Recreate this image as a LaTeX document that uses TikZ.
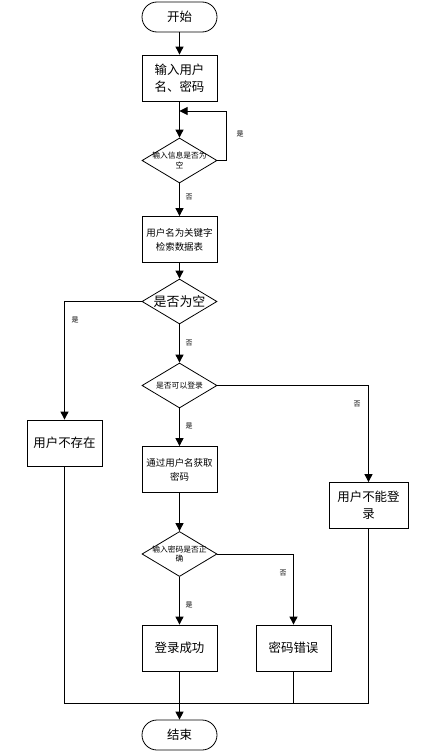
\documentclass[tikz,border=0pt]{standalone}
\usepackage{fontspec}
\setmainfont{Noto Sans CJK SC}
\usetikzlibrary{arrows.meta,shapes.geometric}
\begin{document}
\begin{tikzpicture}[x=1bp,y=-1bp,
  line width=0.9bp,
  >={Triangle[length=8bp,width=8bp]},
  box/.style={draw, line width=0.8bp, minimum width=75bp, minimum height=46bp, inner sep=0pt, align=center},
  term/.style={draw, line width=0.8bp, rounded corners=15bp, minimum width=75bp, minimum height=30bp, inner sep=0pt, font=\fontsize{12.5}{15}\selectfont},
  dia/.style={draw, line width=0.8bp, diamond, minimum width=75bp, minimum height=45bp, inner sep=0pt},
  big/.style={font=\fontsize{12.5}{17}\selectfont},
  mid/.style={font=\fontsize{9.5}{14}\selectfont},
  dtext/.style={font=\fontsize{7.8}{10}\selectfont, align=center, inner sep=0pt},
  lab/.style={font=\fontsize{7}{8}\selectfont, inner sep=0pt}
]
\useasboundingbox (0,0) rectangle (428,754);

\node[term] (start) at (179.5,17) {开始};
\node[box, big] (b1) at (179.5,78) {输入用户\\名、密码};
\node[dia, label={[dtext]center:输入信息是否为\\空}] (d1) at (179.5,160.5) {};
\node[box, mid] (b2) at (179.5,239.5) {用户名为关键字\\检索数据表};
\node[dia, label={[font=\fontsize{13}{17}\selectfont, inner sep=0pt]center:是否为空}] (d2) at (179.5,301.5) {};
\node[dia, label={[dtext]center:是否可以登录}] (d3) at (179.5,385.5) {};
\node[box, big] (nouser) at (64.5,443) {用户不存在};
\node[box, mid] (getpw) at (179.5,469.5) {通过用户名获取\\密码};
\node[box, big, minimum width=79bp] (cant) at (368.5,505.5) {用户不能登\\录};
\node[dia, label={[dtext]center:输入密码是否正\\确}] (d4) at (179.5,554) {};
\node[box, big] (succ) at (179.5,648) {登录成功};
\node[box, big] (pwerr) at (293.5,648) {密码错误};
\node[term] (end) at (179.5,735) {结束};

\coordinate (loopin) at (179.5,111);
\coordinate (loopr) at (226,111);
\coordinate (bm) at (179.5,703);

\draw[->] (start) -- (b1);
\draw[->] (b1) -- (d1);
\draw[->] (d1.east) -| (loopr) -- (loopin);
\draw[->] (d1) -- (b2);
\draw[->] (b2) -- (d2);
\draw[->] (d2.west) -| (nouser.north);
\draw[->] (d2) -- (d3);
\draw[->] (d3.east) -| (cant.north);
\draw[->] (d3) -- (getpw);
\draw[->] (getpw) -- (d4);
\draw[->] (d4.east) -| (pwerr.north);
\draw[->] (d4) -- (succ);

\draw (nouser.south) -- (nouser.south |- bm) -- (cant.south |- bm) -- (cant.south);
\draw (pwerr.south) -- (pwerr.south |- bm);
\draw (succ.south) -- (bm);
\draw[->, line width=1.3bp] (bm) -- (end);

\node[lab] (l1) at (240,134) {是};
\node[lab] (l2) at (189,197) {否};
\node[lab] (l3) at (75,320) {是};
\node[lab] (l4) at (189,343) {否};
\node[lab] (l5) at (357,404) {否};
\node[lab] (l6) at (189,426) {是};
\node[lab] (l7) at (283,573) {否};
\node[lab] (l8) at (189,605) {是};
\end{tikzpicture}
\end{document}
